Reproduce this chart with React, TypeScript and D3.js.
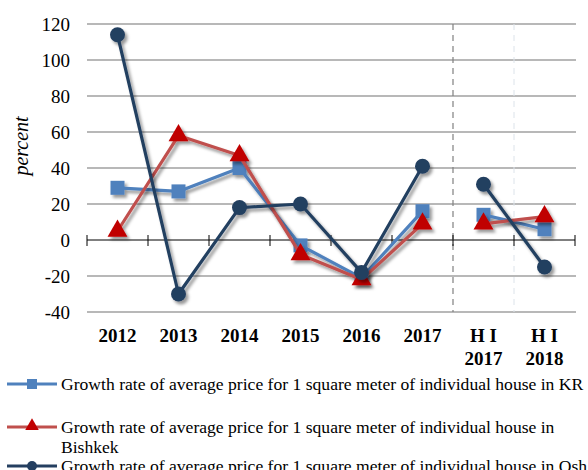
import React from "react";
import * as d3 from "d3";

// categories on the x axis (multi-line labels split by \n)
const categories = ["2012", "2013", "2014", "2015", "2016", "2017", "H I\n2017", "H I\n2018"];

// growth rates, percent (null = gap between annual and half-year blocks)
const krValues = [29, 27, 40, -3, -21, 16, null, 14, 6];
const bishkekValues = [5, 58, 47, -8, -22, 9, null, 9, 13];
const oshValues = [114, -30, 18, 20, -18, 41, null, 31, -15];

const yTicks = [-40, -20, 0, 20, 40, 60, 80, 100, 120];

const legendLabels = [
  ["Growth rate of average price for 1 square meter of individual house in KR"],
  ["Growth rate of average price for 1 square meter of individual house in", "Bishkek"],
  ["Growth rate of average price for 1 square meter of individual house in Osh"],
];

const W = 588;
const H = 470;
const margin = { left: 87, right: 13, top: 24, bottom: 158 };

// values arrays include a null slot at index 6 so the line breaks; map to category index
const toPoints = (vals: (number | null)[]) => {
  const pts: { i: number; v: number | null }[] = [];
  let ci = 0;
  vals.forEach((v, k) => {
    if (k === 6) {
      pts.push({ i: -1, v: null });
      return;
    }
    pts.push({ i: ci, v });
    ci++;
  });
  return pts;
};

export default function App() {
  const x = d3
    .scaleBand()
    .domain(categories)
    .range([margin.left, W - margin.right])
    .paddingInner(0)
    .paddingOuter(0);
  const y = d3.scaleLinear().domain([-40, 120]).range([H - margin.bottom, margin.top]);

  const cx = (i: number) => (x(categories[i]) as number) + x.bandwidth() / 2;

  const line = d3
    .line<{ i: number; v: number | null }>()
    .defined((d) => d.v !== null)
    .x((d) => cx(d.i))
    .y((d) => y(d.v as number));

  const kr = toPoints(krValues);
  const bishkek = toPoints(bishkekValues);
  const osh = toPoints(oshValues);

  const font = "'Liberation Serif', 'Times New Roman', serif";
  const blue = "#4F81BD";
  const redLine = "#C0504D";
  const redMark = "#C00000";
  const navy = "#243F60";

  const boundaries = d3.range(categories.length + 1).map((i) => margin.left + i * x.bandwidth());

  const tri = d3.symbol().type(d3.symbolTriangle).size(110)() as string;

  return (
    <svg width={W} height={H} style={{ position: "absolute", left: 0, top: 0 }} fontFamily={font}>
      <defs>
        <filter id="shadow" x="-20%" y="-20%" width="140%" height="140%">
          <feDropShadow dx="2.5" dy="3" stdDeviation="1.6" floodColor="#000" floodOpacity="0.4" />
        </filter>
      </defs>

      {/* gridlines */}
      {yTicks
        .filter((t) => t !== 0)
        .map((t) => (
          <line key={t} x1={margin.left} x2={W - margin.right + 1} y1={y(t)} y2={y(t)} stroke="#A0A0A0" strokeWidth={1.5} />
        ))}

      {/* separators between annual and half-year data */}
      <line x1={boundaries[6]} x2={boundaries[6]} y1={y(120)} y2={y(-40)} stroke="#808080" strokeWidth={1.2} strokeDasharray="6,5" />
      <line x1={boundaries[7]} x2={boundaries[7]} y1={y(120)} y2={y(-40)} stroke="#DCE3EA" strokeWidth={1} strokeDasharray="6,5" />

      {/* zero axis with tick marks */}
      <line x1={margin.left} x2={W - margin.right} y1={y(0)} y2={y(0)} stroke="#000" strokeWidth={1} />
      {boundaries.map((b, i) => (
        <line key={i} x1={b} x2={b} y1={y(0) - 5} y2={y(0) + 6} stroke="#000" strokeWidth={1} />
      ))}

      {/* y tick labels */}
      {yTicks.map((t) => (
        <text key={t} x={70} y={y(t)} dy="0.35em" textAnchor="end" fontSize={19} fill="#000">
          {t}
        </text>
      ))}
      <text transform={`translate(28,${146}) rotate(-90)`} textAnchor="middle" fontSize={20} fontStyle="italic">
        percent
      </text>

      {/* x labels */}
      {categories.map((c, i) =>
        c.split("\n").map((s, k) => (
          <text key={c + k} x={cx(i)} y={342 + k * 23} textAnchor="middle" fontSize={19} fontWeight="bold">
            {s}
          </text>
        ))
      )}

      {/* series */}
      <g filter="url(#shadow)">
        <path d={line(kr) as string} fill="none" stroke={blue} strokeWidth={3.2} strokeLinejoin="round" />
        {kr
          .filter((d) => d.v !== null)
          .map((d) => (
            <rect key={d.i} x={cx(d.i) - 7} y={y(d.v as number) - 7} width={14} height={14} fill={blue} />
          ))}
      </g>
      <g filter="url(#shadow)">
        <path d={line(bishkek) as string} fill="none" stroke={redLine} strokeWidth={3.2} strokeLinejoin="round" />
        {bishkek
          .filter((d) => d.v !== null)
          .map((d) => (
            <path key={d.i} d={tri} transform={`translate(${cx(d.i)},${y(d.v as number)}) scale(1.25)`} fill={redMark} />
          ))}
      </g>
      <g filter="url(#shadow)">
        <path d={line(osh) as string} fill="none" stroke={navy} strokeWidth={3.2} strokeLinejoin="round" />
        {osh
          .filter((d) => d.v !== null)
          .map((d) => (
            <circle key={d.i} cx={cx(d.i)} cy={y(d.v as number)} r={7.5} fill={navy} />
          ))}
      </g>

      {/* legend */}
      {[
        { color: blue, mark: "square", y0: 384 },
        { color: redLine, mark: "triangle", y0: 427 },
        { color: navy, mark: "circle", y0: 466 },
      ].map((l, i) => (
        <g key={i}>
          <line x1={7} x2={57} y1={l.y0} y2={l.y0} stroke={l.color} strokeWidth={3.2} />
          {l.mark === "square" && <rect x={27} y={l.y0 - 5} width={10} height={10} fill={blue} />}
          {l.mark === "triangle" && <path d={tri} transform={`translate(32,${l.y0 - 1}) scale(0.85)`} fill={redMark} />}
          {l.mark === "circle" && <circle cx={32} cy={l.y0} r={5} fill={navy} />}
          {legendLabels[i].map((s, k) => (
            <text key={k} x={61} y={l.y0 + k * 20} dy="0.35em" fontSize={17.6} fill="#000">
              {s}
            </text>
          ))}
        </g>
      ))}
    </svg>
  );
}
